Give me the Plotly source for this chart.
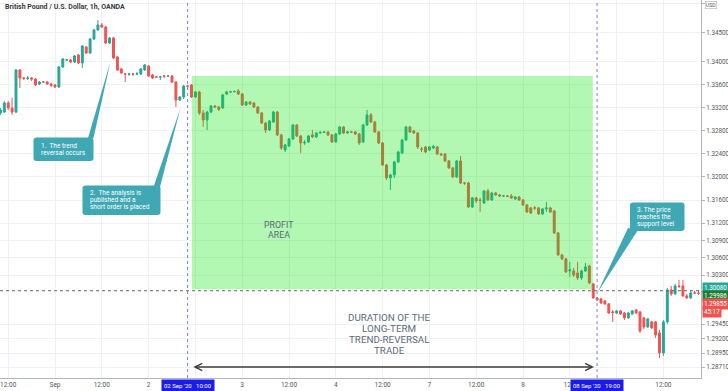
import plotly.graph_objects as go

# ---------------- data (GBP/USD 1h) ----------------
bar_index = list(range(180))   # hourly bars, 31 Aug 10:00 ... 09 Sep 21:00 (weekend removed)

open_ = [
    1.33106, 1.33123, 1.33279, 1.33193, 1.33123, 1.33850, 1.33712, 1.33703, 1.33712, 1.33694,
    1.33608, 1.33642, 1.33642, 1.33608, 1.33590, 1.33556, 1.33902, 1.34023, 1.34023, 1.33988,
    1.34109, 1.33971, 1.34248, 1.34144, 1.34386, 1.34542, 1.34628, 1.34594, 1.34317, 1.34404,
    1.34075, 1.33867, 1.33781, 1.33779, 1.33781, 1.33779, 1.33781, 1.33850, 1.33919, 1.33763,
    1.33729, 1.33727, 1.33746, 1.33744, 1.33746, 1.33642, 1.33331, 1.33383, 1.33573, 1.33590,
    1.33383, 1.33469, 1.33106, 1.32985, 1.33123, 1.33227, 1.33210, 1.33193, 1.33435, 1.33469,
    1.33475, 1.33487, 1.33435, 1.33244, 1.33296, 1.33279, 1.33210, 1.33106, 1.32933, 1.32812,
    1.32950, 1.33123, 1.32726, 1.32466, 1.32535, 1.32656, 1.32898, 1.32708, 1.32587, 1.32605,
    1.32726, 1.32691, 1.32760, 1.32769, 1.32777, 1.32726, 1.32605, 1.32743, 1.32864, 1.32760,
    1.32777, 1.32777, 1.32743, 1.32605, 1.32898, 1.33072, 1.32950, 1.32777, 1.32587, 1.32207,
    1.31982, 1.32034, 1.32259, 1.32414, 1.32639, 1.32864, 1.32795, 1.32760, 1.32483, 1.32518,
    1.32466, 1.32501, 1.32518, 1.32397, 1.32397, 1.32276, 1.32155, 1.31999, 1.32276, 1.31895,
    1.31895, 1.31480, 1.31636, 1.31601, 1.31549, 1.31757, 1.31601, 1.31722, 1.31688, 1.31670,
    1.31670, 1.31670, 1.31618, 1.31653, 1.31601, 1.31515, 1.31463, 1.31463, 1.31463, 1.31359,
    1.31446, 1.31463, 1.31411, 1.31030, 1.30650, 1.30581, 1.30373, 1.30373, 1.30338, 1.30252,
    1.30373, 1.30459, 1.30148, 1.29906, 1.29889, 1.29854, 1.29802, 1.29664, 1.29646, 1.29681,
    1.29646, 1.29560, 1.29629, 1.29698, 1.29664, 1.29560, 1.29404, 1.29491, 1.29491, 1.29300,
    1.28954, 1.29491, 1.30044, 1.29975, 1.30113, 1.30113, 1.29941, 1.29906, 1.29992, 1.29990,
]
high_ = [
    1.33193, 1.33314, 1.33314, 1.33366, 1.33867, 1.33867, 1.33729, 1.33746, 1.33729, 1.33712,
    1.33660, 1.33660, 1.33660, 1.33625, 1.33608, 1.33919, 1.34058, 1.34040, 1.34040, 1.34109,
    1.34127, 1.34282, 1.34265, 1.34404, 1.34559, 1.34715, 1.34663, 1.34611, 1.34421, 1.34421,
    1.34092, 1.33885, 1.33798, 1.33798, 1.33798, 1.33815, 1.33885, 1.33954, 1.33936, 1.33781,
    1.33746, 1.33746, 1.33763, 1.33763, 1.33763, 1.33660, 1.33400, 1.33590, 1.33590, 1.33608,
    1.33487, 1.33487, 1.33158, 1.33141, 1.33244, 1.33244, 1.33227, 1.33435, 1.33487, 1.33487,
    1.33495, 1.33521, 1.33452, 1.33314, 1.33314, 1.33296, 1.33227, 1.33123, 1.32950, 1.32985,
    1.33141, 1.33141, 1.32743, 1.32570, 1.32674, 1.32916, 1.32916, 1.32726, 1.32639, 1.32726,
    1.32812, 1.32777, 1.32795, 1.32795, 1.32795, 1.32743, 1.32760, 1.32881, 1.32881, 1.32795,
    1.32795, 1.32795, 1.32760, 1.32916, 1.33158, 1.33106, 1.32968, 1.32795, 1.32605, 1.32224,
    1.32051, 1.32276, 1.32449, 1.32656, 1.32881, 1.32881, 1.32812, 1.32777, 1.32518, 1.32535,
    1.32535, 1.32553, 1.32535, 1.32414, 1.32414, 1.32293, 1.32172, 1.32293, 1.32362, 1.31913,
    1.31913, 1.31653, 1.31653, 1.31636, 1.31774, 1.31792, 1.31740, 1.31740, 1.31705, 1.31688,
    1.31688, 1.31705, 1.31670, 1.31670, 1.31618, 1.31532, 1.31480, 1.31497, 1.31480, 1.31463,
    1.31567, 1.31480, 1.31428, 1.31047, 1.30667, 1.30598, 1.30529, 1.30425, 1.30529, 1.30390,
    1.30511, 1.30477, 1.30165, 1.29923, 1.29906, 1.29871, 1.29819, 1.29698, 1.29698, 1.29698,
    1.29664, 1.29664, 1.29698, 1.29716, 1.29681, 1.29577, 1.29560, 1.29508, 1.29508, 1.29352,
    1.29525, 1.30079, 1.30113, 1.30148, 1.30217, 1.30217, 1.29975, 1.30044, 1.30027, 1.30044,
]
low_ = [
    1.33072, 1.33106, 1.33158, 1.33072, 1.33106, 1.33539, 1.33677, 1.33677, 1.33660, 1.33573,
    1.33590, 1.33625, 1.33590, 1.33556, 1.33539, 1.33539, 1.33885, 1.34006, 1.33971, 1.33971,
    1.33954, 1.33885, 1.34127, 1.34127, 1.34369, 1.34525, 1.34577, 1.34300, 1.34300, 1.34040,
    1.33833, 1.33781, 1.33642, 1.33746, 1.33746, 1.33763, 1.33763, 1.33833, 1.33729, 1.33694,
    1.33712, 1.33677, 1.33712, 1.33729, 1.33625, 1.33210, 1.33314, 1.33348, 1.33504, 1.33366,
    1.33366, 1.33072, 1.32864, 1.32812, 1.33106, 1.33193, 1.33141, 1.33175, 1.33417, 1.33452,
    1.33461, 1.33417, 1.33227, 1.33227, 1.33244, 1.33193, 1.33089, 1.32916, 1.32760, 1.32795,
    1.32933, 1.32708, 1.32466, 1.32431, 1.32518, 1.32639, 1.32691, 1.32414, 1.32553, 1.32587,
    1.32674, 1.32674, 1.32743, 1.32760, 1.32708, 1.32587, 1.32587, 1.32726, 1.32743, 1.32743,
    1.32760, 1.32726, 1.32553, 1.32587, 1.32881, 1.32933, 1.32760, 1.32570, 1.32189, 1.31947,
    1.31774, 1.31982, 1.32241, 1.32397, 1.32622, 1.32760, 1.32743, 1.32483, 1.32431, 1.32414,
    1.32449, 1.32483, 1.32380, 1.32362, 1.32259, 1.32138, 1.31982, 1.31982, 1.31878, 1.31861,
    1.31463, 1.31463, 1.31549, 1.31394, 1.31532, 1.31584, 1.31584, 1.31670, 1.31653, 1.31653,
    1.31653, 1.31618, 1.31601, 1.31584, 1.31497, 1.31376, 1.31359, 1.31428, 1.31342, 1.31342,
    1.31394, 1.31376, 1.31013, 1.30633, 1.30563, 1.30338, 1.30269, 1.30269, 1.30217, 1.30217,
    1.30355, 1.30148, 1.29889, 1.29854, 1.29802, 1.29785, 1.29629, 1.29491, 1.29629, 1.29612,
    1.29525, 1.29543, 1.29612, 1.29629, 1.29300, 1.29369, 1.29387, 1.29369, 1.29213, 1.28868,
    1.28903, 1.29456, 1.29941, 1.29958, 1.30079, 1.29923, 1.29889, 1.29889, 1.29975, 1.29958,
]
close_ = [
    1.33158, 1.33279, 1.33193, 1.33123, 1.33850, 1.33712, 1.33703, 1.33712, 1.33694, 1.33590,
    1.33642, 1.33640, 1.33608, 1.33582, 1.33556, 1.33902, 1.34040, 1.34025, 1.33988, 1.34092,
    1.33971, 1.34265, 1.34144, 1.34386, 1.34542, 1.34628, 1.34594, 1.34317, 1.34404, 1.34058,
    1.33850, 1.33798, 1.33779, 1.33781, 1.33779, 1.33781, 1.33867, 1.33936, 1.33746, 1.33712,
    1.33727, 1.33729, 1.33744, 1.33746, 1.33642, 1.33331, 1.33383, 1.33573, 1.33571, 1.33383,
    1.33469, 1.33106, 1.32985, 1.33123, 1.33227, 1.33210, 1.33167, 1.33417, 1.33469, 1.33475,
    1.33478, 1.33435, 1.33244, 1.33296, 1.33262, 1.33210, 1.33106, 1.32933, 1.32812, 1.32968,
    1.33123, 1.32726, 1.32501, 1.32553, 1.32656, 1.32898, 1.32708, 1.32587, 1.32596, 1.32708,
    1.32691, 1.32760, 1.32769, 1.32777, 1.32726, 1.32605, 1.32743, 1.32864, 1.32760, 1.32777,
    1.32775, 1.32743, 1.32587, 1.32898, 1.33072, 1.32950, 1.32777, 1.32587, 1.32207, 1.31982,
    1.32034, 1.32259, 1.32431, 1.32639, 1.32864, 1.32777, 1.32760, 1.32518, 1.32481, 1.32431,
    1.32518, 1.32527, 1.32397, 1.32380, 1.32276, 1.32155, 1.31999, 1.32276, 1.31895, 1.31893,
    1.31480, 1.31636, 1.31584, 1.31592, 1.31757, 1.31601, 1.31722, 1.31688, 1.31670, 1.31672,
    1.31662, 1.31636, 1.31653, 1.31601, 1.31515, 1.31394, 1.31376, 1.31461, 1.31359, 1.31446,
    1.31463, 1.31394, 1.31030, 1.30650, 1.30581, 1.30355, 1.30390, 1.30304, 1.30252, 1.30373,
    1.30442, 1.30165, 1.29906, 1.29871, 1.29819, 1.29802, 1.29646, 1.29655, 1.29681, 1.29629,
    1.29560, 1.29646, 1.29681, 1.29646, 1.29335, 1.29404, 1.29543, 1.29387, 1.29266, 1.28954,
    1.29491, 1.30044, 1.29975, 1.30113, 1.30105, 1.29941, 1.29906, 1.29992, 1.29990, 1.29986,
]

# time-axis ticks (labels hidden under the blue crosshair boxes are left blank)
x_tick_bars = [2, 14, 26, 38, 50, 62, 74, 86, 98, 110, 122, 134, 146, 158, 170]
x_tick_text = ["12:00", "Sep", "12:00", "2", "", "3", "12:00", "4", "12:00",
               "7", "12:00", "8", "12:0", "", "12:00"]
y_tick_vals = [1.35000, 1.34500, 1.34000, 1.33600, 1.33200, 1.32800, 1.32400, 1.32000,
               1.31600, 1.31200, 1.30900, 1.30600, 1.30300, 1.29450, 1.29200, 1.28950, 1.28710]
y_tick_text = [f"{v:.5f}" for v in y_tick_vals]

entry_bar, exit_bar = 48, 153            # 02 Sep '20 10:00 and 08 Sep '20 19:00
entry_label, exit_label = "02 Sep '20\u00a0\u00a0\u00a010:00", "08 Sep '20\u00a0\u00a0\u00a019:00"
profit_x = [49.1, 151.9]
profit_y = [1.30055, 1.33746]
support_level = 1.30030
duration_level = 1.28710
price_tags = [("1.30080", "#26a69a"), ("1.29986", "#1e7e34"), ("1.29855", "#ef5350"), ("45:17", "#ef5350")]

# ---------------- figure ----------------
UP, DN = "#26a69a", "#ef5350"
GRID, AXIS = "#eef1f6", "#b2b5be"
FONT = "Roboto"
CALLOUT = "#3fa8b4"

fig = go.Figure()
fig.add_trace(go.Candlestick(
    x=bar_index, open=open_, high=high_, low=low_, close=close_,
    increasing=dict(line=dict(color=UP, width=1), fillcolor=UP),
    decreasing=dict(line=dict(color=DN, width=1), fillcolor=DN),
    whiskerwidth=0, showlegend=False, hoverinfo="skip"))

W, H = 701.0, 378.0
def fx(p):
    return p / W
def fy(p):
    return 1 - p / H

def rounded_rect(x0, y0, x1, y1, r=3.0):
    return (f"M{fx(x0+r)},{fy(y0)} L{fx(x1-r)},{fy(y0)} Q{fx(x1)},{fy(y0)} {fx(x1)},{fy(y0+r)} "
            f"L{fx(x1)},{fy(y1-r)} Q{fx(x1)},{fy(y1)} {fx(x1-r)},{fy(y1)} "
            f"L{fx(x0+r)},{fy(y1)} Q{fx(x0)},{fy(y1)} {fx(x0)},{fy(y1-r)} "
            f"L{fx(x0)},{fy(y0+r)} Q{fx(x0)},{fy(y0)} {fx(x0+r)},{fy(y0)} Z")

def tri(pts):
    (a, b), (c, d), (e, f) = pts
    return f"M{fx(a)},{fy(b)} L{fx(c)},{fy(d)} L{fx(e)},{fy(f)} Z"

shapes = [
    dict(type="rect", xref="x", yref="y", x0=profit_x[0], x1=profit_x[1], y0=profit_y[0], y1=profit_y[1],
         fillcolor="rgba(0,230,0,0.30)", line=dict(width=0), layer="above"),
    dict(type="line", xref="paper", yref="y", x0=0, x1=1, y0=support_level, y1=support_level,
         line=dict(color="#666", width=1, dash="dot"), layer="above"),
    dict(type="line", xref="x", yref="paper", x0=entry_bar, x1=entry_bar, y0=0, y1=1,
         line=dict(color="#7d82d8", width=1, dash="dot"), layer="above"),
    dict(type="line", xref="x", yref="paper", x0=exit_bar, x1=exit_bar, y0=0, y1=1,
         line=dict(color="#7d82d8", width=1, dash="dot"), layer="above"),
]

callouts = [
    dict(box=(33.5, 137.5, 93.5, 161), wedge=[(88, 138), (93.5, 138), (110.5, 61.5)],
         lines=["1.\u00a0 The trend", "reversal occurs"], tx=38.5, ty=[145.6, 152.8]),
    dict(box=(82.5, 185.5, 160.5, 215), wedge=[(153.5, 187), (160, 187), (180.5, 108)],
         lines=["2.\u00a0 The analysis is", "published and a", "short order is placed"], tx=87.5,
         ty=[192.6, 199.8, 207.0]),
    dict(box=(630, 202.5, 684.5, 231), wedge=[(628, 228), (638, 230), (597.5, 292.5)],
         lines=["3. The price", "reaches the", "support level"], tx=635, ty=[209.8, 217, 224.2]),
]
for c in callouts:
    shapes.append(dict(type="path", xref="paper", yref="paper", path=rounded_rect(*c["box"]),
                       fillcolor=CALLOUT, line=dict(width=0), layer="above"))
    shapes.append(dict(type="path", xref="paper", yref="paper", path=tri(c["wedge"]),
                       fillcolor=CALLOUT, line=dict(width=0), layer="above"))

annotations = []
for c in callouts:
    for line, y in zip(c["lines"], c["ty"]):
        annotations.append(dict(xref="paper", yref="paper", x=fx(c["tx"]), y=fy(y), text=line,
                                showarrow=False, xanchor="left", yanchor="middle",
                                font=dict(family=FONT, size=6.5, color="white")))

# title
annotations.append(dict(xref="paper", yref="paper", x=fx(3), y=fy(7.2),
                        text="British Pound / U.S. Dollar, 1h, OANDA", showarrow=False,
                        xanchor="left", yanchor="middle",
                        font=dict(family=FONT, size=7, color="#3a3a3a", weight="bold")))

# profit area text
for line, y in zip(["PROFIT", "AREA"], [224.5, 234.5]):
    annotations.append(dict(xref="paper", yref="paper", x=fx(279), y=fy(y), text=line,
                            showarrow=False, xanchor="center", yanchor="middle",
                            font=dict(family=FONT, size=8.8, color="#5b6b7c")))
# duration text
for line, y in zip(["DURATION OF THE", "LONG-TERM", "TREND-REVERSAL", "TRADE"], [317.5, 328.5, 339.5, 350.5]):
    annotations.append(dict(xref="paper", yref="paper", x=fx(389), y=fy(y), text=line,
                            showarrow=False, xanchor="center", yanchor="middle",
                            font=dict(family=FONT, size=9.8, color="#5b6b7c")))

# double-headed duration arrow
annotations.append(dict(xref="x", yref="y", axref="x", ayref="y",
                        x=152.2, y=duration_level, ax=49.1, ay=duration_level,
                        text="", showarrow=True, arrowside="end+start",
                        arrowhead=5, startarrowhead=5, arrowsize=1.1, startarrowsize=1.1,
                        arrowwidth=1.3, arrowcolor="#3c3c3c", standoff=0, startstandoff=0))

# blue date/time labels on the time axis
for b, lab in [(entry_bar, entry_label), (exit_bar, exit_label)]:
    annotations.append(dict(xref="x", yref="paper", x=b, y=0, yanchor="top", yshift=-1,
                            text=lab, showarrow=False, bgcolor="#1c1ce6", borderpad=2,
                            font=dict(family=FONT, size=6, color="white")))

# price tags on the price axis
for k, (txt, col) in enumerate(price_tags):
    annotations.append(dict(xref="paper", yref="y", x=1, y=1.30080, xanchor="left", yanchor="middle",
                            yshift=-8 * k, xshift=1, text=txt, showarrow=False, bgcolor=col,
                            borderpad=1, font=dict(family=FONT, size=6.3, color="white")))

# currency badge
annotations.append(dict(xref="paper", yref="paper", x=fx(711), y=fy(5.5), text="USD", showarrow=False,
                        xanchor="center", yanchor="middle", bgcolor="white", bordercolor="#b0b0b0",
                        borderwidth=0.6, borderpad=0.5, font=dict(family=FONT, size=5, color="#555")))

fig.update_layout(
    width=728, height=391, template="none",
    margin=dict(l=0, r=27, t=0, b=13, autoexpand=False),
    paper_bgcolor="white", plot_bgcolor="white", showlegend=False,
    font=dict(family=FONT, size=7, color="#555"),
    shapes=shapes, annotations=annotations,
    xaxis=dict(range=[-0.103, 179.64], tickmode="array", tickvals=x_tick_bars, ticktext=x_tick_text,
               showgrid=True, gridcolor=GRID, gridwidth=1, showline=True, linecolor=AXIS, linewidth=1,
               ticks="", tickfont=dict(family=FONT, size=6.5, color="#555"), zeroline=False,
               rangeslider=dict(visible=False), automargin=False, fixedrange=True),
    yaxis=dict(side="right", range=[1.28520, 1.35061], tickmode="array", tickvals=y_tick_vals,
               ticktext=y_tick_text, showgrid=True, gridcolor=GRID, gridwidth=1, showline=True,
               linecolor=AXIS, linewidth=1, ticks="outside", ticklen=3, tickcolor=AXIS,
               tickfont=dict(family=FONT, size=6.3, color="#555"), zeroline=False,
               automargin=False, fixedrange=True),
)

fig.write_html("out.html", config={"displayModeBar": False},
               post_script="document.body.style.margin='0';document.body.style.padding='0';"
                           "document.body.style.overflow='hidden';")
